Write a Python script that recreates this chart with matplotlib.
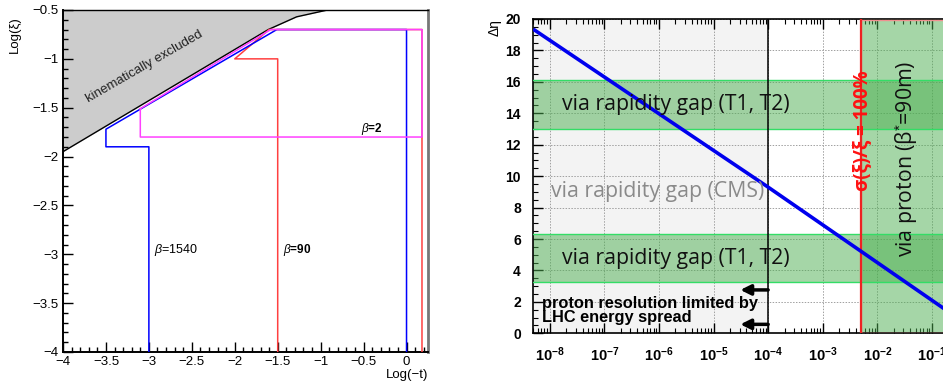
import matplotlib
matplotlib.use("Agg")
import matplotlib.pyplot as plt
from matplotlib.ticker import MultipleLocator, FixedLocator, LogLocator, NullFormatter
from matplotlib.patches import Rectangle
import numpy as np

plt.rcParams['font.family'] = ['Liberation Sans', 'DejaVu Sans']
plt.rcParams['mathtext.fontset'] = 'custom'
plt.rcParams['mathtext.rm'] = 'Liberation Sans'
plt.rcParams['mathtext.bf'] = 'Liberation Sans:bold'
plt.rcParams['mathtext.it'] = 'Liberation Sans:italic'

# ---------------- Left panel data ----------------
kin_logt = [-4.0, -1.61, -1.28, -0.92]
kin_logxi = [-1.95, -0.70, -0.57, -0.50]

b1540_logt = [-3.0, -3.0, -3.5, -3.5, -1.51, 0.0, 0.0]
b1540_logxi = [-4.0, -1.9, -1.9, -1.72, -0.70, -0.70, -4.0]

b90_logt = [-1.5, -1.5, -2.0, -1.6, 0.18, 0.18]
b90_logxi = [-4.0, -1.0, -1.0, -0.70, -0.70, -4.0]

b2_logt = [-3.1, -3.1, 0.18, 0.18, -1.58, -3.1]
b2_logxi = [-1.51, -1.8, -1.8, -0.70, -0.70, -1.51]

# ---------------- Right panel data ----------------
line_xi = [5e-9, 1e-4, 1.0]
line_deta = [19.35, 9.3, -0.3]
band_low = [3.25, 6.3]
band_high = [13.0, 16.1]
xi_min, xi_cms, xi_proton, xi_max = 5e-9, 1e-4, 5e-3, 1.0
arrow_tail_xi = 3.1e-5
arrow_y = [2.76, 0.57]
xtick_vals = [1e-8, 1e-7, 1e-6, 1e-5, 1e-4, 1e-3, 1e-2, 1e-1]
xtick_labels = [r'$\mathbf{10^{-8}}$', r'$\mathbf{10^{-7}}$', r'$\mathbf{10^{-6}}$',
                r'$\mathbf{10^{-5}}$', r'$\mathbf{10^{-4}}$', r'$\mathbf{10^{-3}}$',
                r'$\mathbf{10^{-2}}$', r'$\mathbf{10^{-1}}$']

W, H = 943, 385
fig = plt.figure(figsize=(W / 100, H / 100), dpi=100)

# ---------------- Left panel ----------------
axL = fig.add_axes([63 / W, 1 - 352 / H, (428 - 63) / W, (352 - 10) / H])
axL.set_xlim(-4, 0.25)
axL.set_ylim(-4, -0.5)
axL.fill_between(kin_logt + [0.25], kin_logxi + [-0.5], -0.5, color='#cccccc', lw=0, zorder=1)
axL.plot(kin_logt, kin_logxi, color='black', lw=1.0, zorder=3)
axL.plot(b90_logt, b90_logxi, color='#ff4040', lw=1.1, zorder=4)
axL.plot(b1540_logt, b1540_logxi, color='#0000ff', lw=1.1, zorder=5)
axL.plot(b2_logt, b2_logxi, color='#ff40ff', lw=1.1, zorder=6)
axL.text(-3.05, -1.08, 'kinematically excluded', rotation=30, ha='center', va='center',
         fontsize=9.5, color='#222222')
axL.text(-0.53, -1.72, r'$\beta$=2', fontsize=8.5, fontweight='bold', ha='left', va='center')
axL.text(-2.94, -2.96, r'$\beta$=1540', fontsize=9, ha='left', va='center')
axL.text(-1.44, -2.96, r'$\beta$=90', fontsize=8.5, fontweight='bold', ha='left', va='center')
axL.xaxis.set_minor_locator(MultipleLocator(0.1))
axL.yaxis.set_minor_locator(MultipleLocator(0.1))
axL.set_xticks([-4, -3.5, -3, -2.5, -2, -1.5, -1, -0.5, 0])
axL.set_xticklabels(['\u22124', '\u22123.5', '\u22123', '\u22122.5', '\u22122', '\u22121.5', '\u22121', '\u22120.5', '0'])
axL.set_yticks([-4, -3.5, -3, -2.5, -2, -1.5, -1, -0.5])
axL.set_yticklabels(['\u22124', '\u22123.5', '\u22123', '\u22122.5', '\u22122', '\u22121.5', '\u22121', '\u22120.5'])
axL.tick_params(which='both', direction='in', labelsize=9.5, width=1.0)
axL.tick_params(which='major', length=7)
axL.tick_params(which='minor', length=3.5)
axL.tick_params(axis='x', pad=3)
for s in ['left', 'bottom']:
    axL.spines[s].set_linewidth(1.4)
axL.spines['top'].set_linewidth(1.0)
axL.spines['right'].set_color('#777777')
axL.spines['right'].set_linewidth(2.0)
fig.text(15 / W, 1 - 35 / H, 'Log(\u03be)', rotation=90, ha='center', va='center', fontsize=9.5)
fig.text(428 / W, 1 - 375 / H, 'Log(\u2212t)', ha='right', va='center', fontsize=9.5)

# ---------------- Right panel ----------------
dec = 54.6
x0 = 533.3
width_px = (np.log10(xi_max) - np.log10(xi_min)) * dec
axR = fig.add_axes([x0 / W, 1 - 333.3 / H, width_px / W, (333.3 - 19) / H])
axR.set_xscale('log')
axR.set_xlim(xi_min, xi_max)
axR.set_ylim(0, 20)
axR.axvspan(xi_min, xi_cms, color='#f3f3f3', lw=0, zorder=0)
axR.grid(True, which='major', color='#a0a0a0', ls=(0, (1.5, 1.5)), lw=0.7, zorder=1)
axR.set_axisbelow(True)
axR.add_patch(Rectangle((xi_proton, 0), xi_max - xi_proton, 20, facecolor='#4caf50', alpha=0.5,
                        edgecolor='none', zorder=2))
axR.add_patch(Rectangle((xi_proton, 0.05), xi_max - xi_proton, 19.9, facecolor='none',
                        edgecolor='#f09090', lw=1.0, zorder=3))
for b in (band_low, band_high):
    axR.axhspan(b[0], b[1], facecolor='#4caf50', alpha=0.5, edgecolor='none', zorder=2)
    axR.axhline(b[0], color='#33dd66', lw=1.0, zorder=3)
    axR.axhline(b[1], color='#33dd66', lw=1.0, zorder=3)
axR.axvline(xi_proton, color='#ee2222', lw=1.6, zorder=4)
axR.axvline(xi_cms, color='black', lw=1.1, zorder=4)
axR.plot(line_xi, line_deta, color='#0000ee', lw=2.6, zorder=6, solid_capstyle='butt')

big = dict(fontsize=15.3, family=['Open Sans', 'DejaVu Sans'])
axR.text(2.0e-6, 14.55, 'via rapidity gap (T1, T2)', ha='center', va='center', color='#111111', zorder=7, **big)
axR.text(2.0e-6, 4.75, 'via rapidity gap (T1, T2)', ha='center', va='center', color='#111111', zorder=7, **big)
axR.text(9.5e-7, 9.0, 'via rapidity gap (CMS)', ha='center', va='center', color='#8a8a8a', zorder=7, **big)
axR.text(3.5e-2, 11.1, 'via proton (\u03b2$^{*}$=90m)', rotation=90, ha='center', va='center',
         color='#111111', zorder=7, **big)
axR.text(5.2e-3, 12.9, '\u03c3(\u03be)/\u03be = 100%', rotation=90, ha='center', va='center',
         color='#ff1111', fontsize=13.5, fontweight='bold', zorder=7,
         family=['Open Sans', 'DejaVu Sans'])
axR.text(7.2e-9, 1.45, 'proton resolution limited by\nLHC energy spread', ha='left', va='center',
         fontsize=11.8, fontweight='bold', linespacing=0.9, zorder=7)
for yy in arrow_y:
    axR.annotate('', xy=(arrow_tail_xi, yy), xytext=(xi_cms, yy),
                 arrowprops=dict(arrowstyle='-|>,head_length=0.6,head_width=0.3', color='black',
                                 lw=2.5, shrinkA=0, shrinkB=0),
                 zorder=8)

axR.xaxis.set_major_locator(FixedLocator(xtick_vals))
axR.set_xticklabels(xtick_labels)
axR.xaxis.set_minor_locator(LogLocator(base=10, subs=np.arange(2, 10)))
axR.xaxis.set_minor_formatter(NullFormatter())
axR.yaxis.set_major_locator(MultipleLocator(2))
axR.yaxis.set_minor_locator(MultipleLocator(0.5))
axR.tick_params(which='both', direction='in', top=True, right=True)
axR.tick_params(which='major', length=7, width=1.0)
axR.tick_params(which='minor', length=3.5, width=0.8)
axR.tick_params(axis='x', labelsize=10.5, pad=9)
axR.tick_params(axis='y', labelsize=10, pad=9)
for lab in axR.get_yticklabels():
    lab.set_fontweight('bold')
for s in axR.spines.values():
    s.set_linewidth(1.2)
fig.text(495 / W, 1 - 28 / H, '\u0394\u03b7', rotation=90, ha='center', va='center', fontsize=10)

fig.savefig('out.png', dpi=100)
